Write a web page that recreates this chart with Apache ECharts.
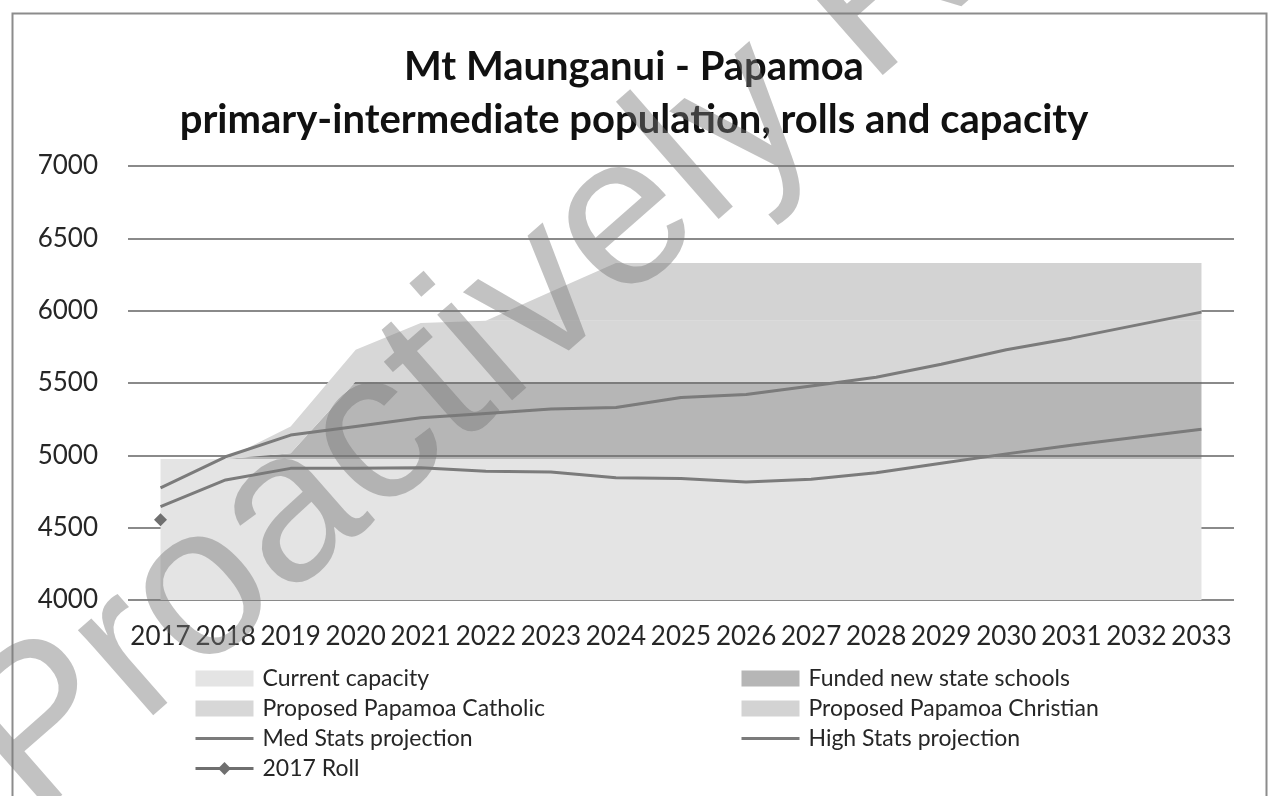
<!DOCTYPE html>
<html>
<head>
<meta charset="utf-8">
<script src="https://cdn.jsdelivr.net/npm/echarts@6/dist/echarts.min.js"></script>
<style>
  html, body { margin: 0; padding: 0; background: #fff; }
  #chart { width: 1268px; height: 796px; }
</style>
</head>
<body>
<div id="chart"></div>
<script>
const years = ["2017","2018","2019","2020","2021","2022","2023","2024","2025","2026","2027","2028","2029","2030","2031","2032","2033"];

// stacked capacity bands
const currentCapacity = [4975,4975,4975,4975,4975,4975,4975,4975,4975,4975,4975,4975,4975,4975,4975,4975,4975];
const fundedNewState = [0,0,40,535,535,535,535,535,535,535,535,535,535,535,535,535,535];
const papamoaCatholic = [0,0,185,220,405,420,420,420,420,420,420,420,420,420,420,420,420];
const papamoaChristian = [0,0,0,0,0,0,200,400,400,400,400,400,400,400,400,400,400];

// projections
const medStats = [4645,4830,4910,4910,4915,4890,4885,4845,4840,4815,4835,4880,4945,5010,5070,5125,5180];
const highStats = [4775,4990,5140,5200,5260,5290,5320,5330,5400,5420,5480,5540,5630,5730,5810,5900,5990];
const roll2017 = [4555,null,null,null,null,null,null,null,null,null,null,null,null,null,null,null,null];

const yTicks = { min: 4000, max: 7000, step: 500 };

const chart = echarts.init(document.getElementById("chart"));
const font = "Lato, 'Open Sans', sans-serif";

const areaSeries = (name, data, color) => ({
  name: name,
  type: "line",
  stack: "cap",
  data: data,
  symbol: "none",
  lineStyle: { width: 0 },
  itemStyle: { color: color },
  areaStyle: { color: color, opacity: 1 },
  z: 2,
});

const lineSeries = (name, data) => ({
  name: name,
  type: "line",
  data: data,
  symbol: "none",
  lineStyle: { width: 3, color: "#7b7b7b" },
  itemStyle: { color: "#7b7b7b" },
  z: 5,
});

const legendText = { fontFamily: font, fontSize: 23, color: "#262626", padding: [0, 0, 0, 4] };
const legendBase = {
  orient: "vertical",
  top: 667,
  padding: 0,
  itemWidth: 58,
  itemHeight: 16,
  itemGap: 7,
  lineStyle: { width: 3 },
  textStyle: legendText,
};

const option = {
  animation: false,
  textStyle: { fontFamily: font },
  title: {
    text: "Mt Maunganui - Papamoa\nprimary-intermediate population, rolls and capacity",
    left: "center",
    top: 36,
    textStyle: { fontFamily: font, fontSize: 40, fontWeight: "bold", color: "#111", lineHeight: 53 },
  },
  grid: { left: 128, right: 34, top: 166, bottom: 196 },
  legend: [
    Object.assign({}, legendBase, {
      left: 194,
      data: [
        { name: "Current capacity", icon: "rect" },
        { name: "Proposed Papamoa Catholic", icon: "rect" },
        { name: "Med Stats projection", itemStyle: { opacity: 0 } },
        "2017 Roll",
      ],
    }),
    Object.assign({}, legendBase, {
      left: 740,
      data: [
        { name: "Funded new state schools", icon: "rect" },
        { name: "Proposed Papamoa Christian", icon: "rect" },
        { name: "High Stats projection", itemStyle: { opacity: 0 } },
      ],
    }),
  ],
  xAxis: {
    type: "category",
    data: years,
    boundaryGap: true,
    axisLine: { show: false },
    axisTick: { show: false },
    axisLabel: { fontFamily: font, fontSize: 26, color: "#262626", margin: 24, interval: 0 },
  },
  yAxis: {
    type: "value",
    min: yTicks.min,
    max: yTicks.max,
    interval: yTicks.step,
    axisLine: { show: false },
    axisTick: { show: false },
    axisLabel: {
      fontFamily: font, fontSize: 26, color: "#262626", margin: 30,
      formatter: (v) => String(v),
    },
    splitLine: { lineStyle: { color: "#8a8a8a", width: 2 } },
  },
  series: [
    areaSeries("Current capacity", currentCapacity, "#e4e4e4"),
    areaSeries("Funded new state schools", fundedNewState, "rgba(110,110,110,0.5)"),
    areaSeries("Proposed Papamoa Catholic", papamoaCatholic, "#d7d7d7"),
    areaSeries("Proposed Papamoa Christian", papamoaChristian, "#d3d3d3"),
    lineSeries("Med Stats projection", medStats),
    lineSeries("High Stats projection", highStats),
    {
      name: "2017 Roll",
      type: "line",
      data: roll2017,
      symbol: "diamond",
      symbolSize: 13,
      showAllSymbol: true,
      lineStyle: { width: 3, color: "#6f6f6f" },
      itemStyle: { color: "#6f6f6f" },
      z: 6,
    },
  ],
  graphic: [
    {
      type: "rect",
      left: 10,
      top: 11,
      shape: { width: 1254, height: 800 },
      style: { fill: "none", stroke: "#8c8c8c", lineWidth: 2 },
      silent: true,
      z: 0,
    },
    {
      type: "text",
      x: -5,
      y: 775,
      rotation: 0.72,
      style: {
        text: "Proactively Released",
        fontFamily: "'Liberation Sans', Arial, sans-serif",
        fontSize: 215,
        fill: "rgba(120,120,120,0.45)",
        textAlign: "left",
        textVerticalAlign: "middle",
      },
      silent: true,
      z: 100,
    },
  ],
};

chart.setOption(option);
</script>
</body>
</html>
